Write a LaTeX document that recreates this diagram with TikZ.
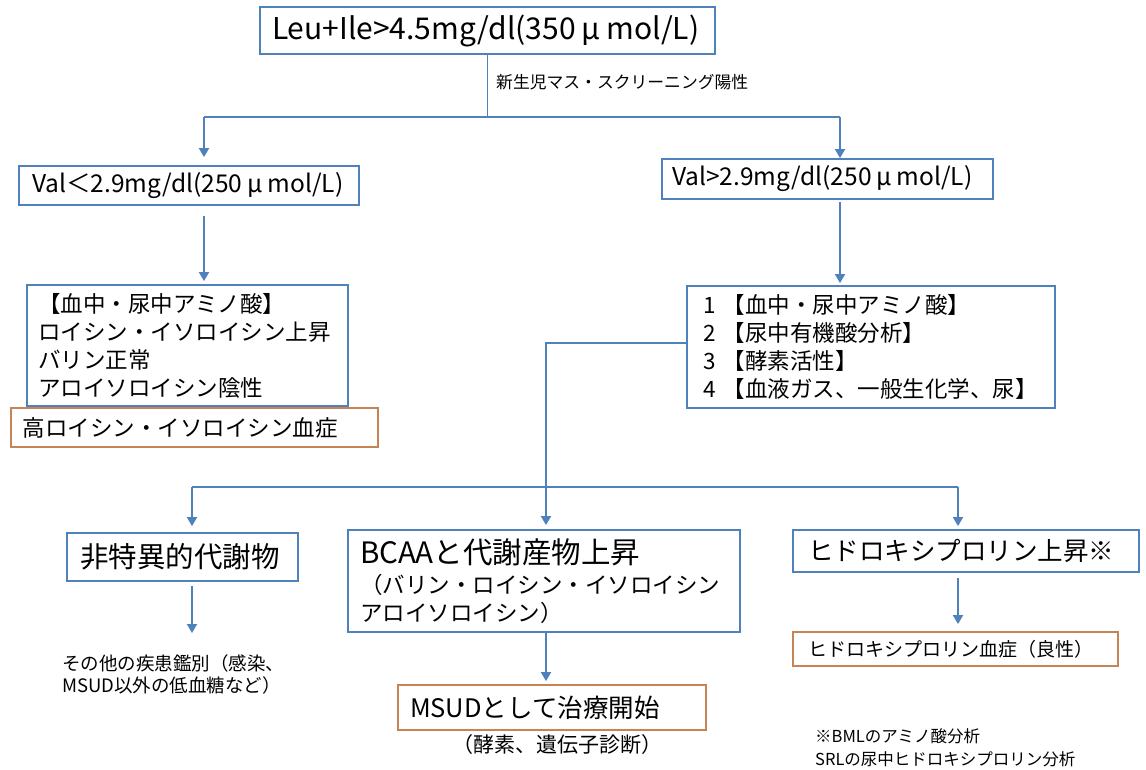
\documentclass[tikz,border=0pt]{standalone}
\usepackage{fontspec}
\setmainfont{Noto Sans CJK JP}
\usetikzlibrary{arrows.meta}
\definecolor{boxblue}{RGB}{79,129,189}
\definecolor{boxorange}{RGB}{197,132,85}
\newcommand\myfs[2]{\fontsize{#1}{#2}\selectfont}
\newcommand\fwmu{\hspace{0.2em}μ\hspace{0.2em}}
\begin{document}
\begin{tikzpicture}[x=1pt,y=-1pt,
  bbox/.style={draw=boxblue, line width=1.8pt, inner sep=0pt, align=left},
  obox/.style={draw=boxorange, line width=1.8pt, inner sep=0pt, align=left},
  conn/.style={draw=boxblue, line width=1.8pt},
  arr/.style={conn, -{Triangle[width=10pt,length=9pt]}},
  plain/.style={inner sep=0pt, align=left}]
\useasboundingbox (0,0) rectangle (1146,769);

% nodes
\node[bbox, minimum width=455pt, minimum height=47pt, text width=431pt, font=\myfs{30}{34}] (top) at (487.5,30.5) {\mbox{Leu+Ile>4.5mg/dl(350\fwmu mol/L)}};
\node[plain, anchor=west, font=\myfs{16.8}{20}] (lbl) at (496,82) {\mbox{新生児マス・スクリーニング陽性}};

\node[bbox, minimum width=340pt, minimum height=39pt, text width=314pt, font=\myfs{24.5}{27}] (vl) at (189,185.5) {\mbox{Val＜2.9mg/dl(250\fwmu mol/L)}};
\node[bbox, minimum width=331pt, minimum height=40pt, text width=311pt, font=\myfs{24.5}{27}] (vr) at (827.5,179) {\mbox{Val>2.9mg/dl(250\fwmu mol/L)}};

\node[bbox, minimum width=321pt, minimum height=121pt, text width=299pt, font=\myfs{22.5}{28}] (aal) at (187.5,345.5) {\mbox{【血中・尿中アミノ酸】}\\\mbox{ロイシン・イソロイシン上昇}\\\mbox{バリン正常}\\\mbox{アロイソロイシン陰性}};
\node[obox, minimum width=367pt, minimum height=39pt, text width=343pt, font=\myfs{22.5}{26}] (ohl) at (194.5,427.5) {\mbox{高ロイシン・イソロイシン血症}};

\node[bbox, minimum width=368pt, minimum height=122pt, text width=336pt, font=\myfs{22.5}{28}] (aar) at (871,347) {\mbox{1 【血中・尿中アミノ酸】}\\\mbox{2 【尿中有機酸分析】}\\\mbox{3 【酵素活性】}\\\mbox{4 【血液ガス、一般生化学、尿】}};

\node[bbox, minimum width=231pt, minimum height=48pt, text width=205pt, font=\myfs{28.5}{32}] (ns) at (182.5,557) {\mbox{非特異的代謝物}};
\node[bbox, minimum width=392pt, minimum height=102pt, text width=368pt, font=\myfs{22.5}{28}] (bc) at (544,581) {{\myfs{29.5}{30}\mbox{BCAAと代謝産物上昇}}\\[2pt]\mbox{（バリン・ロイシン・イソロイシン}\\\mbox{アロイソロイシン）}};
\node[bbox, minimum width=346pt, minimum height=42pt, text width=316pt, font=\myfs{25.5}{28}] (hy) at (966,551) {\mbox{ヒドロキシプロリン上昇※}};

\node[plain, anchor=west, font=\myfs{18.5}{22}] (oth) at (62,674) {\mbox{その他の疾患鑑別（感染、}\\\mbox{MSUD以外の低血糖など）}};
\coordinate (othtop) at (192,633);

\node[obox, minimum width=308pt, minimum height=45pt, text width=284pt, font=\myfs{25.5}{28}] (msud) at (552,707.5) {\mbox{MSUDとして治療開始}};
\node[plain, font=\myfs{21}{24}] (enz) at (557.5,745) {\mbox{（酵素、遺伝子診断）}};

\node[obox, minimum width=325pt, minimum height=34pt, text width=295pt, font=\myfs{19}{22}] (ohy) at (955.5,649) {\mbox{ヒドロキシプロリン血症（良性）}};

\node[plain, anchor=west, font=\myfs{16.5}{23}] (foot) at (815,747.5) {\mbox{※BMLのアミノ酸分析}\\\mbox{SRLの尿中ヒドロキシプロリン分析}};

% connectors
\coordinate (b1) at (487.5,117);
\coordinate (bl) at (204,117);
\coordinate (br) at (840,117);
\draw[conn] (top.south) -- (b1);
\draw[conn] (bl) -- (br);
\draw[arr, shorten >=8pt] (bl) -- (bl |- vl.north);
\draw[arr] (br) -- (br |- vr.north);
\draw[arr, shorten <=10pt, shorten >=3pt] (bl |- vl.south) -- (bl |- aal.north);
\draw[arr, shorten <=2pt, shorten >=2pt] (br |- vr.south) -- (br |- aar.north);

\coordinate (c1) at (546,343);
\coordinate (b2) at (546,487);
\coordinate (b2l) at (192,487);
\coordinate (b2r) at (958,487);
\draw[conn] (aar.west |- c1) -- (c1) -- (b2);
\draw[conn] (b2l) -- (b2r);
\draw[arr, shorten >=6pt] (b2l) -- (b2l |- ns.north);
\draw[arr, shorten >=4pt] (b2) -- (b2 |- bc.north);
\draw[arr, shorten >=3pt] (b2r) -- (b2r |- hy.north);

\draw[arr, shorten <=4pt] (b2l |- ns.south) -- (othtop);
\draw[arr, shorten >=3pt] (b2 |- bc.south) -- (b2 |- msud.north);
\draw[arr, shorten <=5pt, shorten >=7pt] (b2r |- hy.south) -- (b2r |- ohy.north);
\end{tikzpicture}
\end{document}
